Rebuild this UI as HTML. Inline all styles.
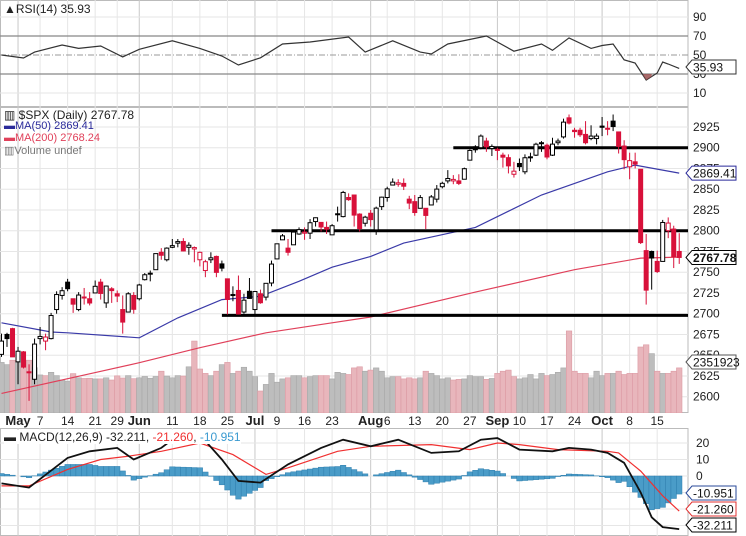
<!DOCTYPE html>
<html><head><meta charset="utf-8">
<style>
html,body{margin:0;padding:0;background:#fff;}
svg{display:block;font-family:"Liberation Sans",sans-serif;}
</style></head>
<body>
<svg id="chart" width="746" height="536" viewBox="0 0 746 536" xmlns="http://www.w3.org/2000/svg">
<defs>
<clipPath id="cRsi"><rect x="0" y="0" width="688" height="107"/></clipPath>
<clipPath id="cMain"><rect x="0" y="107" width="688" height="306"/></clipPath>
<clipPath id="cMacd"><rect x="0" y="428" width="688" height="108"/></clipPath>
</defs>
<g id="grid"></g>
<g id="vol" clip-path="url(#cMain)"></g>
<g id="rsi" clip-path="url(#cRsi)"></g>
<g id="main" clip-path="url(#cMain)"></g>
<g id="macd" clip-path="url(#cMacd)"></g>
<g id="labels"></g>
</svg>
<script>
// ---- data ----
const opens=[2651,2675,2682,
2642,2654,2630,2621,2670,2667,2670,2705,2722,2738,2718,2705,2719,2718,2725,2738,2713,2730,2724,2705,2702,2722,
2718,2741,2748,2753,2774,2765,2780,2785,2787,2780,2778,2765,2752,2765,2769,2760,2742,2722,2728,2702,2727,
2705,2724,2720,2737,2766,2789,2779,2783,2796,2797,2797,2811,2810,2804,2795,2820,2817,2840,2843,2820,2809,
2821,2801,2829,2840,2855,2856,2857,2838,2835,2827,2827,2831,2838,2853,2860,2860,2860,2862,2885,2901,2900,2908,2899,
2898,2891,2888,2868,2881,2871,2889,2891,2906,2903,2891,2906,2913,2936,2921,2921,2916,2911,2911,
2926,2923,2932,2919,2902,2877,2883,2874,2776,2775,2763,2763,2800,2802,2775];
const highs=[2676,2677,2683,
2660,2655,2639,2670,2684,2676,2701,2727,2732,2742,2718,2726,2731,2726,2740,2742,2734,2732,2728,2722,2726,2726,
2736,2749,2752,2772,2779,2780,2790,2790,2791,2786,2781,2775,2765,2774,2770,2764,2742,2733,2746,2724,2743,
2727,2729,2737,2764,2784,2796,2790,2800,2804,2804,2814,2816,2810,2811,2808,2829,2848,2845,2843,2821,2818,
2825,2829,2841,2853,2863,2862,2863,2842,2843,2843,2827,2843,2855,2859,2873,2867,2868,2876,2898,2903,2916,2912,2904,
2900,2894,2892,2883,2887,2892,2894,2906,2908,2905,2912,2911,2935,2940,2924,2924,2932,2927,2917,
2937,2932,2940,2919,2909,2894,2894,2874,2796,2776,2776,2813,2816,2806,2797];
const lows=[2648,2660,2648,
2615,2634,2595,2615,2663,2656,2669,2700,2717,2727,2701,2703,2711,2710,2725,2717,2707,2713,2714,2676,2702,2700,
2716,2740,2739,2753,2765,2763,2779,2780,2775,2771,2762,2757,2744,2761,2744,2751,2699,2715,2699,2700,2718,
2699,2712,2716,2733,2766,2789,2770,2783,2795,2789,2790,2805,2799,2796,2795,2811,2816,2836,2805,2799,2805,
2805,2795,2825,2835,2855,2853,2849,2826,2818,2827,2802,2831,2834,2851,2857,2856,2855,2862,2885,2894,2898,2895,2890,
2885,2876,2869,2864,2872,2868,2883,2890,2895,2886,2890,2903,2911,2928,2912,2913,2904,2909,2904,
2914,2915,2920,2893,2874,2862,2875,2784,2711,2729,2749,2763,2791,2755,2760];
const closes=[2667,2670,2648,
2654.8,2635.7,2629.7,2663.4,2672.6,2671.9,2697.8,2723.1,2727.7,2730.1,2711.5,2722.5,2720.1,2712.9,2733.0,2724.4,2733.3,2727.8,2721.3,2689.9,2724.0,2705.3,
2734.6,2746.9,2748.8,2772.4,2770.4,2779.0,2782.0,2786.9,2775.6,2782.5,2779.7,2773.9,2762.6,2767.3,2749.8,2754.9,2717.1,2723.1,2699.6,2716.3,2718.4,
2726.7,2713.2,2736.6,2759.8,2784.2,2793.8,2774.0,2798.3,2801.3,2798.4,2809.6,2815.6,2804.5,2801.8,2806.0,2820.4,2846.1,2837.4,2818.8,2802.6,2816.3,
2813.4,2827.2,2840.4,2850.4,2858.5,2857.7,2853.6,2833.3,2821.9,2839.9,2818.4,2840.7,2850.1,2857.1,2862.9,2861.8,2857.0,2874.7,2896.7,2897.5,2914.0,2901.1,2901.5,
2896.7,2888.6,2878.1,2871.7,2877.1,2887.9,2888.9,2904.2,2905.0,2888.8,2904.3,2908.0,2930.8,2929.7,2919.4,2915.6,2906.0,2914.0,2914.0,
2924.6,2923.4,2925.5,2901.6,2885.6,2884.4,2880.3,2785.7,2728.4,2767.1,2750.8,2809.9,2809.2,2768.8,2767.78];
const volumes=[3800,3700,3900,
3800,3650,3900,3560,3230,3200,3350,3200,3000,2950,3290,3100,3070,3080,3050,3050,3100,3000,3190,3090,3200,3060,
3100,3160,3080,3160,3400,3180,3100,3200,3180,3600,4770,3500,3300,3200,3400,3700,3800,3300,3400,3580,3400,
3150,2500,2800,3300,2900,3050,3100,3200,3200,3100,3150,3200,3200,3200,3050,3350,3300,3250,3550,3600,3400,
3450,3550,3400,3100,3150,3150,3050,3100,3050,3100,3400,3300,3200,3050,3100,3000,3030,3050,3200,3150,3150,3030,3070,
3300,3400,3450,3150,3050,3100,3250,3050,3300,3200,3250,3350,3550,5230,3400,3300,3300,3100,3400,
3200,3300,3300,3400,3250,3300,3300,4500,4600,4200,3400,3300,3300,3400,3550];
const ma50Idx=[0,9,12,25,32,40,47,54,60,67,73,86,98,110,115,123];
const ma50Val=[2689,2678,2677,2671,2695,2717,2721,2739,2756,2769,2785,2804,2843,2871,2879,2869.41];
const ma200Idx=[0,17,25,36,48,60,67,86,104,116,123];
const ma200Val=[2604,2629,2641,2659,2677,2689,2696,2726,2753,2767,2768.24];
const rsiIdx=[0,4,6,11,14,18,22,25,31,36,40,43,47,51,56,63,66,71,76,78,81,88,93,98,100,103,107,109,111,113,115,117,119,120,121,123];
const rsiVal=[50,46.8,53,60.5,57,59.5,48,56,65,57,49,39.5,47,61.6,63.7,69,53,65,53,51,61.6,70,54,61.6,55,68,57,60,61.6,45,41.6,23.7,31,42.6,40.5,35.93];
const macdIdx=[0,5,12,16,21,24,29,31,36,40,43,47,52,58,62,67,72,78,83,87,90,94,100,103,107,110,113,116,118,120,123];
const macdVal=[-4.5,-7,11,15,17,10,17,22,25,10,-3,-4,7,17,22,18,22,14,15,22,23,16,15,17,16,14,8,-10,-25,-31,-32.211];
const sigIdx=[0,5,12,18,23,29,36,42,48,52,61,67,78,85,90,94,101,110,112,116,120,123];
const sigVal=[-6,-6,4,10,12,15,20,13,1,5,15,18,19,16,20,19,16,15,14,3,-12,-21.26];
const levels=[2900,2800,2698];
const levelStartIdx=[82,49,40];
const priceTicks=[2925,2900,2875,2850,2825,2800,2775,2750,2725,2700,2675,2650,2625,2600];
const rsiTicks=[90,70,50,30,10];
const macdTicks=[20,10,0];
const dateLabels=["May","7","14","21","29","Jun","11","18","25","Jul","9","16","23","Aug","6","13","20","27","Sep","10","17","24","Oct","8","15"];
const dateIdx=[3,7,12,17,21,25,31,36,41,46,50,55,60,67,70,75,80,85,90,94,99,104,109,114,119];
const monthLabel=[1,0,0,0,0,1,0,0,0,1,0,0,0,1,0,0,0,0,1,0,0,0,1,0,0];

// ---- axes ----
const PR=688;
function X(i){return 1.5+i*5.51;}
function Y(p){return 147.7+(2900-p)*0.83;}
function YR(v){return 36+(70-v)*0.95;}
function YM(v){return 476-v*1.65;}
function YV(v){return 413-(v-1500)*0.022;}
const NS='http://www.w3.org/2000/svg';
function mk(parent,tag,attrs){const e=document.createElementNS(NS,tag);for(const k in attrs)e.setAttribute(k,attrs[k]);parent.appendChild(e);return e;}
const gGrid=document.getElementById('grid'),gVol=document.getElementById('vol'),gRsi=document.getElementById('rsi'),gMain=document.getElementById('main'),gMacd=document.getElementById('macd'),gLab=document.getElementById('labels');

// panels borders
[[0,107],[107,413],[428,536]].forEach(function(p,k){
  const r=mk(gGrid,'rect',{x:0.5,y:p[0]+0.5,width:PR-0.5,height:p[1]-p[0]-1,fill:'#fff',stroke:'#bbb'});
  
  
});
// vertical gridlines
dateIdx.forEach(function(d,k){
  const x=X(d);
  [[0,107],[107,413],[428,536]].forEach(function(p){
    const l=mk(gGrid,'line',{x1:x,x2:x,y1:p[0],y2:p[1],stroke:monthLabel[k]?'#c8c8c8':'#e6e6e6','stroke-width':1});
    
    
  });
  const t=mk(gLab,'text',{x:x,y:425,'text-anchor':'middle','font-size':monthLabel[k]?13:12,'font-weight':monthLabel[k]?'bold':'normal',fill:'#222'});
  t.textContent=dateLabels[k];
  
  
});
// price gridlines + labels
priceTicks.forEach(function(p){
  const y=Y(p);
  const l=mk(gGrid,'line',{x1:0,x2:PR,y1:y,y2:y,stroke:'#e6e6e6'});
  
  
  const t=mk(gLab,'text',{x:693,y:y+4,'font-size':12,fill:'#222'});
  t.textContent=p;
  
  
});
// rsi ticks
rsiTicks.forEach(function(v){
  const y=YR(v);
  const l=mk(gGrid,'line',{x1:0,x2:PR,y1:y,y2:y,stroke:(v==70||v==30)?'#888':(v==50?'#999':'#e6e6e6'),'stroke-dasharray':v==50?'6,2,1,2':'none','stroke-width':v==50?1:((v==70||v==30)?1.3:1)});
  
  
  const t=mk(gLab,'text',{x:693,y:y+4,'font-size':12,fill:'#222'});
  t.textContent=v;
  
  
});
// macd ticks
[20,10,0,-10,-20,-30].forEach(function(v){
  const l=mk(gGrid,'line',{x1:0,x2:PR,y1:YM(v),y2:YM(v),stroke:'#e6e6e6'});
  
  
});
macdTicks.forEach(function(v){
  const t=mk(gLab,'text',{x:696,y:YM(v)+4,'font-size':12,fill:'#222'});
  t.textContent=v;
  
  
});

// volume
for(let i=0;i<closes.length;i++){
  const down=i>0&&closes[i]<closes[i-1];
  const y=YV(volumes[i]);
  const r=mk(gVol,'rect',{x:X(i)-2.75,y:y,width:5.51,height:413-y,fill:down?'#e8b6bc':'#bdbdbd',stroke:down?'#dc9aa3':'#a8a8a8','stroke-width':0.6});
  
  
}
function path(idx,val,fy){return idx.map(function(d,k){return (k?'L':'M')+X(d).toFixed(1)+','+fy(val[k]).toFixed(1);}).join('');}
function lerp(idx,val,i){for(let k=0;k<idx.length-1;k++){if(i>=idx[k]&&i<=idx[k+1]){const t=(i-idx[k])/(idx[k+1]-idx[k]);return val[k]+t*(val[k+1]-val[k]);}}return val[val.length-1];}
// MAs
let e=mk(gMain,'path',{d:path(ma200Idx,ma200Val,Y),fill:'none',stroke:'#e0405a','stroke-width':1.2});


e=mk(gMain,'path',{d:path(ma50Idx,ma50Val,Y),fill:'none',stroke:'#3a3aa8','stroke-width':1.2});


// support/resistance lines
levels.forEach(function(p,k){
  const l=mk(gMain,'line',{x1:X(levelStartIdx[k]),x2:PR,y1:Y(p),y2:Y(p),stroke:'#000','stroke-width':3});
  
  
});
// candles
for(let i=0;i<closes.length;i++){
  const o=opens[i],c=closes[i];
  const h=Math.max(highs[i],o,c),lo=Math.min(lows[i],o,c);
  const red=i>0&&c<closes[i-1];
  const col=red?'#d8113a':'#000';
  const x=X(i);
  const w=mk(gMain,'line',{x1:x,x2:x,y1:Y(h),y2:Y(lo),stroke:col,'stroke-width':1});
  
  
  const top=Y(Math.max(o,c)),bot=Y(Math.min(o,c));
  const b=mk(gMain,'rect',{x:x-2,y:top,width:4,height:Math.max(1,bot-top),fill:c>o?'#fff':col,stroke:col,'stroke-width':1});
  
  
}
// RSI
let fillD='';
e=mk(gRsi,'path',{d:path(rsiIdx,rsiVal,YR),fill:'none',stroke:'#333','stroke-width':1.2});


(function(){
  let pts=[];
  for(let i=112;i<=118;i+=0.25){const v=lerp(rsiIdx,rsiVal,i);if(v<30)pts.push([X(i),YR(v)]);}
  if(pts.length){
    let d='M'+pts[0][0]+','+YR(30);
    pts.forEach(function(p){d+='L'+p[0]+','+p[1];});
    d+='L'+pts[pts.length-1][0]+','+YR(30)+'Z';
    const f=mk(gRsi,'path',{d:d,fill:'#9a5050',opacity:0.85});
    
    
  }
})();
// MACD histogram
for(let i=0;i<closes.length;i++){
  const h=lerp(macdIdx,macdVal,i)-lerp(sigIdx,sigVal,i);
  const y0=YM(0),y1=YM(h);
  const r=mk(gMacd,'rect',{x:X(i)-2.75,y:Math.min(y0,y1),width:5.51,height:Math.abs(y1-y0),fill:'#4a9cc8',stroke:'#2f7fae','stroke-width':0.5});
  
  
}
e=mk(gMacd,'path',{d:path(sigIdx,sigVal,YM),fill:'none',stroke:'#f03030','stroke-width':1.2});


e=mk(gMacd,'path',{d:path(macdIdx,macdVal,YM),fill:'none',stroke:'#111','stroke-width':1.8});



// value boxes
function box(y,txt,col,bold,name){
  const g=mk(gLab,'g',{});
  
  
  mk(g,'path',{d:'M686,'+y+'L692,'+(y-7)+'L736,'+(y-7)+'L736,'+(y+7)+'L692,'+(y+7)+'Z',fill:'#fff',stroke:col,'stroke-width':1});
  const t=mk(g,'text',{x:693,y:y+4.5,'font-size':12,fill:'#111','font-weight':bold?'bold':'normal'});
  t.textContent=txt;
}
box(67,'35.93','#333',false,'rsi-value-box');
box(Y(2869.41),'2869.41','#2a2a9a',false,'ma50-value-box');
box(Y(2767.78),'2767.78','#000',true,'price-value-box');
box(362,'2351923','#555',false,'volume-value-box');
box(493,'-10.951','#2a4a9a',false,'hist-value-box');
box(509,'-21.260','#e03030',false,'signal-value-box');
box(525,'-32.211','#000',false,'macd-value-box');
</script>
<div style="position:absolute;left:0;top:0;width:746px;height:536px;pointer-events:none;font-family:'Liberation Sans',sans-serif;font-size:12px;">
  <div style="position:absolute;left:4px;top:2px;color:#222;">▲RSI(14) 35.93</div>
  <div style="position:absolute;left:4px;top:108px;color:#222;">▥ $SPX (Daily) 2767.78</div>
  <div style="position:absolute;left:4px;top:120px;color:#2a2a9a;font-size:11px;">▬MA(50) 2869.41</div>
  <div style="position:absolute;left:4px;top:132px;color:#e0405a;font-size:11px;">▬MA(200) 2768.24</div>
  <div style="position:absolute;left:4px;top:144px;color:#777;font-size:11px;">▥Volume undef</div>
  <div style="position:absolute;left:4px;top:430px;color:#222;font-size:12px;background:#fff;">▬ MACD(12,26,9) -32.211, <span style="color:#f03030">-21.260</span>, <span style="color:#3a9ad0">-10.951</span></div>
</div>
</body></html>
